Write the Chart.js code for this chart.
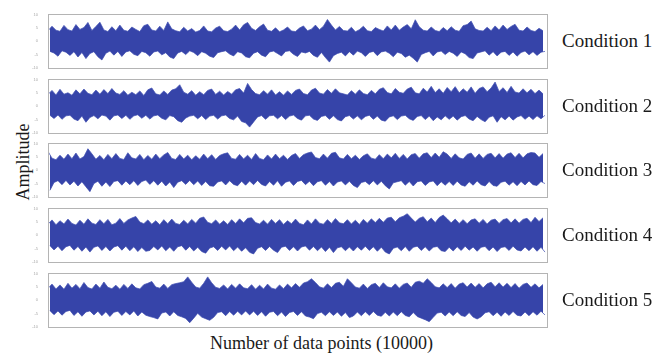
<!DOCTYPE html>
<html>
<head>
<meta charset="utf-8">
<script src="https://cdn.jsdelivr.net/npm/chart.js@4.4.1/dist/chart.umd.min.js"></script>
<style>
  html, body { margin: 0; padding: 0; background: #fff; }
  body { width: 665px; height: 360px; position: relative; overflow: hidden; font-family: "Liberation Serif", "DejaVu Serif", serif; color: #1a1a1a; }
  canvas { position: absolute; }
  .cond { position: absolute; left: 562px; font-size: 19px; line-height: 20px; white-space: nowrap; transform: translateY(-50%); }
  #xtitle { position: absolute; left: 0; width: 643px; top: 333px; text-align: center; font-size: 18px; line-height: 20px; }
  #ytitle { position: absolute; left: 23px; top: 162px; font-size: 18px; line-height: 20px; white-space: nowrap; transform: translate(-50%, -50%) rotate(-90deg); }
</style>
</head>
<body>
<div id="ytitle">Amplitude</div>
<div id="xtitle">Number of data points (10000)</div>

<script>
// Condition names shown to the right of each trace
const conditions = ["Condition 1", "Condition 2", "Condition 3", "Condition 4", "Condition 5"];

// Axis ticks shared by every panel
const xTicks = [0, 2000, 4000, 6000, 8000, 10000];
const yTicks = [-10, -5, 0, 5, 10];

// Successive positive peaks / negative troughs of each vibration record (amplitude units)
const peaks1 = [3.9,5.6,4.1,3.7,5.9,4.3,3.8,6.2,4.4,5.1,7.0,4.0,5.5,7.1,4.2,3.6,5.4,3.9,6.0,4.1,3.7,5.3,4.4,3.6,5.8,
  6.3,4.2,3.8,5.6,4.0,7.2,4.6,3.9,3.5,5.2,3.8,4.7,3.4,4.0,5.7,3.8,3.5,4.9,5.6,3.9,3.6,4.5,6.0,4.2,6.1,
  7.0,4.8,4.0,5.4,6.4,4.1,3.7,5.0,3.5,4.2,5.3,3.8,3.6,4.9,5.7,3.9,4.5,6.0,4.3,5.6,8.1,6.0,4.2,5.5,4.0,
  3.8,5.2,3.5,4.3,5.6,3.9,3.6,5.1,4.4,3.8,5.7,4.2,6.0,4.1,5.3,6.2,4.6,8.0,5.4,4.1,3.8,5.3,4.0,3.6,5.1,
  3.9,5.4,4.1,3.7,5.8,6.2,7.5,4.6,4.0,3.8,5.2,3.9,5.7,4.2,6.0,4.4,5.5,6.3,4.1,3.8,5.3,4.0,3.6,4.8,3.9];
const troughs1 = [-3.8,-4.4,-5.6,-3.6,-4.1,-5.3,-3.9,-5.9,-4.2,-6.5,-4.6,-3.9,-5.8,-7.0,-4.5,-3.7,-5.2,-3.8,-5.7,-4.0,-3.6,-4.9,-5.4,-3.8,-4.3,
  -5.6,-4.0,-3.7,-5.1,-4.3,-5.9,-6.5,-4.4,-3.8,-5.0,-3.6,-4.2,-5.4,-3.9,-4.5,-5.6,-6.1,-4.3,-3.9,-3.6,-4.8,-5.5,-3.9,-4.4,-5.8,
  -6.2,-4.5,-3.9,-5.2,-5.8,-4.0,-3.7,-4.6,-5.5,-3.8,-3.6,-4.9,-5.7,-4.0,-4.4,-3.8,-5.3,-6.0,-4.2,-6.1,-7.8,-5.4,-4.6,-4.1,-5.5,
  -3.9,-5.2,-3.7,-4.3,-5.7,-4.2,-3.8,-5.4,-4.0,-3.7,-4.5,-5.8,-4.1,-4.6,-6.0,-5.2,-6.4,-7.8,-5.0,-4.3,-3.8,-5.5,-4.0,-3.7,-5.0,
  -3.8,-4.5,-5.7,-4.0,-4.7,-6.1,-6.5,-4.4,-4.0,-3.6,-5.2,-3.9,-5.5,-4.1,-3.8,-5.3,-4.0,-5.6,-4.2,-3.7,-5.1,-3.9,-5.3,-4.1,-3.8];

const peaks2 = [4.4,5.9,4.2,6.3,4.5,5.0,4.1,6.1,4.6,6.4,4.8,4.3,6.0,4.5,6.2,4.7,6.6,4.9,4.4,5.8,4.1,5.2,4.3,5.7,4.0,
  6.1,6.8,4.6,4.2,5.7,4.4,6.0,6.5,8.0,5.2,4.5,5.8,4.1,5.4,4.3,5.9,6.4,4.4,5.6,4.2,5.5,4.5,6.1,6.6,4.9,
  8.5,6.2,4.7,4.3,5.8,4.5,6.1,4.2,5.4,4.1,5.7,4.4,5.9,6.4,4.7,4.3,6.0,6.7,4.9,4.5,6.2,4.8,6.5,5.0,4.6,
  4.2,5.8,4.5,6.1,4.7,4.3,5.9,4.6,6.3,6.9,5.1,4.6,6.6,5.2,4.8,6.4,7.1,5.0,4.6,6.7,5.3,7.4,5.1,6.5,4.8,
  7.0,5.4,7.3,5.0,6.5,5.2,7.2,4.8,6.6,7.2,5.4,6.8,9.0,5.5,6.9,5.1,7.4,5.3,4.9,6.5,5.0,6.3,4.7,6.0,4.6];
const troughs2 = [-3.4,-4.6,-3.3,-4.9,-3.6,-3.4,-4.8,-5.4,-3.7,-6.0,-4.2,-3.5,-4.7,-3.3,-3.7,-5.2,-3.6,-3.3,-4.6,-3.4,-4.9,-3.6,-3.2,-4.5,-3.4,
  -4.8,-3.6,-3.3,-4.5,-5.1,-3.5,-3.9,-5.4,-6.0,-4.4,-3.7,-3.4,-4.7,-3.5,-5.0,-3.7,-3.4,-4.8,-3.6,-3.3,-4.6,-5.1,-3.7,-5.7,-6.2,
  -7.8,-5.9,-4.0,-3.5,-4.9,-3.6,-3.4,-4.7,-3.5,-5.0,-3.7,-3.3,-4.6,-5.2,-3.6,-3.4,-4.8,-5.3,-3.8,-3.5,-4.9,-3.6,-5.0,-5.5,-3.9,
  -3.5,-4.8,-3.6,-5.1,-3.8,-3.4,-4.9,-3.7,-5.2,-5.6,-4.0,-3.6,-5.0,-3.7,-3.4,-4.7,-5.3,-3.8,-3.5,-5.0,-3.7,-5.4,-4.0,-5.1,-3.6,
  -4.9,-3.7,-5.2,-3.9,-3.5,-4.8,-5.4,-3.8,-5.0,-5.8,-4.1,-3.6,-6.0,-3.9,-5.1,-3.7,-5.2,-4.0,-3.5,-4.9,-3.7,-5.0,-3.6,-4.7,-3.4];

const peaks3 = [7.0,4.5,3.9,5.6,4.1,6.0,4.3,6.4,4.2,5.1,8.0,6.1,4.1,5.5,3.9,5.9,4.3,6.2,4.4,4.0,6.5,4.6,4.2,5.9,3.9,
  5.5,4.1,6.0,4.3,5.7,6.6,4.4,4.0,5.9,4.2,5.6,3.9,5.4,4.1,6.0,4.3,5.8,4.0,5.5,6.1,6.5,4.4,4.1,5.9,4.2,
  5.6,4.0,6.2,4.4,3.9,5.7,4.2,6.0,4.3,5.6,4.0,5.5,6.2,4.4,5.8,6.4,6.8,4.7,4.3,6.0,4.5,6.3,6.7,4.6,4.2,
  5.9,4.3,5.6,4.0,5.4,6.1,4.5,4.1,5.8,4.3,6.0,4.6,6.3,4.4,5.9,4.2,5.8,6.2,4.5,6.1,6.5,4.7,6.4,4.8,6.9,
  6.0,4.4,6.1,4.6,4.2,5.9,6.4,4.5,6.1,4.4,5.9,6.3,4.6,6.2,4.5,6.0,6.5,4.7,6.3,4.6,6.1,6.6,6.4,4.8,6.2];
const troughs3 = [-7.5,-4.6,-3.9,-5.4,-3.8,-5.5,-4.1,-5.9,-4.3,-6.2,-8.0,-5.0,-4.1,-6.0,-4.4,-6.1,-4.2,-3.9,-5.6,-4.0,-5.4,-3.9,-5.7,-4.2,-3.7,
  -5.3,-3.9,-5.6,-4.1,-5.9,-4.4,-6.5,-4.5,-3.9,-5.3,-3.8,-5.4,-4.0,-5.7,-4.2,-5.8,-6.0,-4.4,-4.0,-5.5,-3.9,-5.3,-5.8,-4.1,-5.6,
  -4.0,-5.4,-3.8,-5.3,-5.9,-4.2,-5.6,-3.9,-6.0,-4.5,-4.0,-5.7,-4.2,-3.8,-5.4,-4.1,-5.8,-4.3,-3.9,-5.6,-4.2,-5.9,-4.4,-4.0,-5.5,
  -4.1,-5.7,-6.5,-4.6,-4.2,-5.4,-3.9,-5.5,-4.1,-5.8,-7.0,-4.7,-4.3,-3.9,-5.6,-4.2,-5.9,-4.3,-4.0,-5.7,-4.4,-4.0,-5.8,-4.3,-5.6,
  -4.2,-5.7,-4.1,-5.5,-6.0,-4.3,-5.6,-4.0,-5.4,-5.9,-4.2,-5.7,-6.0,-4.5,-4.1,-5.6,-4.3,-5.8,-4.2,-5.5,-4.0,-5.4,-5.7,-4.2,-5.0];

const peaks4 = [4.1,5.7,3.9,5.4,4.2,6.0,4.4,3.8,5.6,4.1,6.1,4.5,4.0,5.8,4.3,5.9,3.9,4.5,6.2,4.4,5.7,6.4,7.0,4.9,4.3,
  5.7,4.1,5.4,3.9,5.8,4.3,6.0,4.4,4.0,5.6,4.2,5.9,4.5,6.3,6.8,4.8,4.3,5.7,4.1,5.4,4.0,5.8,4.4,6.1,4.6,
  6.3,6.5,4.7,4.2,5.6,4.1,5.9,4.4,5.8,4.0,5.4,4.3,6.0,4.4,3.9,5.7,4.2,6.1,4.5,4.1,5.8,4.4,6.2,4.6,4.3,
  5.8,4.2,5.6,4.0,5.9,4.5,6.1,4.7,6.3,4.8,6.4,6.7,5.0,6.5,7.1,8.0,6.4,4.9,6.3,6.9,5.0,6.4,4.7,6.6,7.5,
  6.1,4.6,6.0,4.4,5.8,4.3,5.7,6.1,4.5,5.9,4.2,5.6,6.0,4.4,5.8,6.2,4.6,6.1,4.5,5.9,6.3,4.7,6.7,5.1,6.5];
const troughs4 = [-3.9,-5.5,-4.1,-5.8,-4.3,-3.8,-5.6,-4.2,-6.0,-4.4,-6.3,-4.5,-4.0,-5.7,-4.2,-5.9,-4.4,-3.9,-5.6,-4.1,-5.8,-4.3,-6.1,-4.6,-6.0,
  -5.7,-4.2,-5.5,-4.0,-5.8,-4.4,-6.0,-4.3,-3.9,-5.6,-4.2,-5.9,-4.5,-6.1,-6.7,-4.8,-4.3,-5.7,-4.1,-5.5,-4.0,-5.8,-4.4,-6.0,-4.7,
  -6.4,-7.0,-4.9,-4.3,-5.7,-4.2,-5.6,-6.5,-4.5,-4.1,-5.7,-4.3,-5.9,-4.4,-4.0,-5.6,-4.2,-5.8,-4.4,-6.1,-4.5,-6.5,-4.7,-4.3,-5.8,
  -4.4,-5.9,-4.3,-5.6,-4.1,-5.7,-4.3,-6.0,-4.5,-6.3,-7.0,-4.9,-4.4,-5.8,-4.2,-6.0,-4.5,-4.1,-5.7,-4.3,-5.9,-4.5,-4.2,-5.8,-6.1,
  -4.5,-5.9,-4.3,-5.7,-4.1,-5.6,-4.4,-6.0,-4.5,-4.2,-5.8,-4.4,-6.1,-4.6,-4.3,-5.7,-4.1,-5.5,-5.9,-4.4,-5.8,-4.3,-6.0,-4.5,-6.3];

const peaks5 = [4.4,6.0,4.2,5.7,4.1,6.3,4.5,5.9,4.3,6.6,4.7,4.2,6.0,4.5,6.8,4.8,4.3,5.6,4.1,5.9,4.4,6.1,4.6,4.2,5.8,
  6.3,7.0,4.9,4.5,6.0,4.4,5.8,6.2,6.5,6.9,8.7,6.7,4.9,4.5,6.3,8.7,6.5,4.8,4.4,5.7,4.2,5.9,4.5,6.1,4.6,
  4.3,5.8,4.1,5.6,4.2,6.0,4.5,4.1,5.7,4.3,6.0,4.6,6.2,4.8,6.4,6.9,8.0,6.6,5.0,4.5,6.1,4.7,6.3,6.7,5.2,
  8.0,6.5,4.9,4.5,6.0,4.4,5.8,6.3,4.7,6.5,5.0,4.6,6.1,4.5,5.9,6.4,4.8,6.7,7.1,6.3,8.0,6.6,5.0,4.6,6.1,
  4.7,6.2,4.5,6.0,6.5,4.9,6.4,4.8,6.2,4.6,6.1,6.7,5.0,6.5,4.9,6.3,4.7,6.2,4.5,5.9,6.4,4.8,6.1,4.6,5.9];
const troughs5 = [-3.9,-5.4,-4.0,-5.6,-4.2,-3.8,-5.7,-4.3,-6.0,-4.4,-4.0,-5.5,-4.1,-5.8,-4.3,-6.1,-4.5,-4.1,-5.7,-4.2,-5.5,-4.0,-5.9,-4.4,-5.6,
  -6.1,-6.5,-7.0,-4.8,-4.4,-5.9,-4.3,-5.7,-6.2,-6.8,-8.4,-6.7,-4.9,-6.3,-6.9,-7.5,-6.4,-4.6,-4.3,-5.8,-4.2,-5.6,-4.1,-5.5,-4.0,
  -5.5,-4.1,-5.7,-4.3,-6.0,-4.5,-4.2,-5.8,-4.4,-6.1,-4.6,-4.2,-5.7,-4.3,-5.9,-6.3,-6.9,-5.0,-4.5,-5.8,-4.3,-5.7,-4.4,-6.0,-4.6,
  -6.5,-5.9,-4.4,-5.8,-4.3,-5.7,-4.2,-5.6,-6.0,-4.5,-5.9,-4.4,-5.8,-4.3,-5.7,-6.2,-4.6,-6.1,-6.7,-7.3,-8.0,-6.4,-4.8,-4.5,-5.9,
  -4.4,-5.8,-4.3,-5.7,-6.1,-4.6,-6.3,-7.0,-6.2,-4.7,-4.3,-5.8,-4.5,-6.0,-4.4,-5.7,-4.2,-5.6,-5.9,-4.4,-5.8,-4.3,-5.6,-4.1,-5.5];

const peakSets = [peaks1, peaks2, peaks3, peaks4, peaks5];
const troughSets = [troughs1, troughs2, troughs3, troughs4, troughs5];

// Total record length on the x axis
const recordLength = 10000;

// Layout of the five stacked panels (plot-area top edge in px)
const panelTops = [13, 78, 142, 207, 272];
const plotHeight = 55;
const plotLeft = 48, plotRight = 547;
const padTop = 3, padRight = 13, yAxisW = 18, xAxisH = 8;

const traceColor = '#3644a9';
const edgeColor = 'rgba(70, 84, 180, 0.75)';

// Grey box around each plot area
const framePlugin = {
  id: 'frame',
  afterDatasetsDraw(chart) {
    const a = chart.chartArea, ctx = chart.ctx;
    ctx.save();
    ctx.strokeStyle = '#b4b4b4';
    ctx.lineWidth = 1;
    ctx.strokeRect(Math.round(a.left) + 0.5, Math.round(a.top) + 0.5, Math.round(a.right - a.left), Math.round(a.bottom - a.top));
    ctx.restore();
  }
};

// Peaks sit at the start of each cycle, troughs half a cycle later
function peakPoints(peaks) {
  const step = recordLength / peaks.length;
  return peaks.map((v, i) => ({ x: i * step, y: v }));
}
function troughPoints(troughs) {
  const step = recordLength / troughs.length;
  return troughs.map((v, i) => ({ x: i * step + step / 2, y: v }));
}

conditions.forEach((name, k) => {
  const cv = document.createElement('canvas');
  const w = (plotRight + padRight) - (plotLeft - yAxisW);
  const h = padTop + plotHeight + xAxisH;
  cv.width = w; cv.height = h;
  cv.style.left = (plotLeft - yAxisW) + 'px';
  cv.style.top = (panelTops[k] - padTop) + 'px';
  cv.style.width = w + 'px'; cv.style.height = h + 'px';
  document.body.appendChild(cv);

  const lbl = document.createElement('div');
  lbl.className = 'cond';
  lbl.textContent = name;
  lbl.style.top = (panelTops[k] + plotHeight / 2) + 'px';
  document.body.appendChild(lbl);

  const common = { borderColor: edgeColor, backgroundColor: traceColor, borderWidth: 1, pointRadius: 0, tension: 0 };

  new Chart(cv, {
    type: 'line',
    data: {
      datasets: [
        // band between the peak and trough envelopes
        Object.assign({ label: name + ' +', data: peakPoints(peakSets[k]), fill: '+1' }, common),
        Object.assign({ label: name + ' -', data: troughPoints(troughSets[k]), fill: false }, common)
      ]
    },
    options: {
      responsive: false,
      animation: false,
      devicePixelRatio: 1,
      layout: { padding: { top: padTop, right: padRight, left: 0, bottom: 0 } },
      plugins: { legend: { display: false }, tooltip: { enabled: false } },
      scales: {
        x: {
          type: 'linear',
          min: xTicks[0], max: xTicks[xTicks.length - 1],
          afterBuildTicks: s => { s.ticks = xTicks.map(v => ({ value: v })); },
          afterFit: s => { s.height = xAxisH; },
          grid: { display: false },
          border: { display: false },
          ticks: { font: { size: 4, family: 'Liberation Sans' }, color: '#a8a8a8', padding: 1, maxRotation: 0, autoSkip: false }
        },
        y: {
          min: yTicks[0], max: yTicks[yTicks.length - 1],
          afterBuildTicks: s => { s.ticks = yTicks.map(v => ({ value: v })); },
          afterFit: s => { s.width = yAxisW; },
          grid: { display: false },
          border: { display: false },
          ticks: { font: { size: 4, family: 'Liberation Sans' }, color: '#a8a8a8', padding: 2 }
        }
      }
    },
    plugins: [framePlugin]
  });
});
</script>
</body>
</html>
